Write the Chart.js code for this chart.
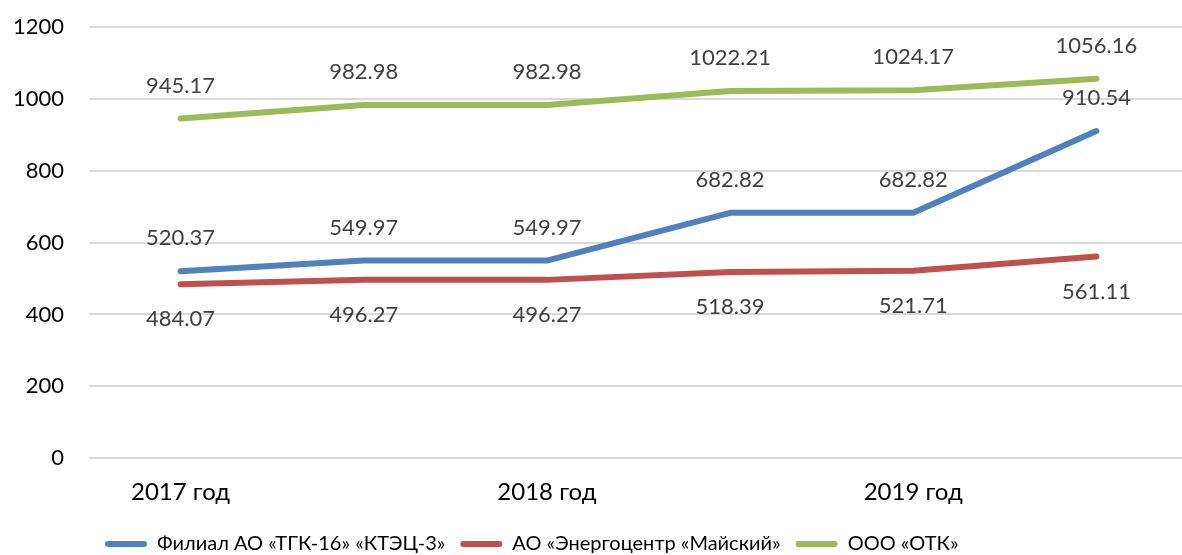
<!DOCTYPE html>
<html>
<head>
<meta charset="utf-8">
<script src="https://cdn.jsdelivr.net/npm/chart.js@4/dist/chart.umd.min.js"></script>
<style>
  html, body { margin: 0; padding: 0; background: #fff; overflow: hidden; }
  #wrap { position: absolute; left: 0; top: 0; width: 1189px; height: 564px; }
</style>
</head>
<body>
<div id="wrap"><canvas id="chart"></canvas></div>
<script>
// categories (only every second column carries a year label)
var years = ['2017 год', '', '2018 год', '', '2019 год', ''];

var seriesNames = ['Филиал АО «ТГК-16» «КТЭЦ-3»', 'АО «Энергоцентр «Майский»', 'ООО «ОТК»'];
var tgk = [520.37, 549.97, 549.97, 682.82, 682.82, 910.54];
var mayskiy = [484.07, 496.27, 496.27, 518.39, 521.71, 561.11];
var otk = [945.17, 982.98, 982.98, 1022.21, 1024.17, 1056.16];

var yTicks = [0, 200, 400, 600, 800, 1000, 1200];

var colors = ['#4f81bd', '#c0504d', '#9bbb59'];
var labelSide = [-1, 1, -1]; // -1 above the line, 1 below

var fontFamily = "Lato, 'Open Sans', sans-serif";
var legendFont = "'Liberation Sans Narrow', Lato, sans-serif";

// simple value labels, the datalabels plugin is not available offline
var valueLabels = {
    id: 'valueLabels',
    afterDatasetsDraw: function(chart) {
        var ctx = chart.ctx;
        ctx.save();
        ctx.font = '22px ' + fontFamily;
        ctx.fillStyle = '#404040';
        ctx.textAlign = 'center';
        ctx.textBaseline = 'middle';
        chart.data.datasets.forEach(function(ds, i) {
            var meta = chart.getDatasetMeta(i);
            meta.data.forEach(function(pt, j) {
                var off = labelSide[i] < 0 ? -33 : 35;
                ctx.fillText(ds.data[j].toFixed(2), pt.x, pt.y + off);
            });
        });
        ctx.restore();
    }
};

// the legend in the original sits left of centre
var legendShift = {
    id: 'legendShift',
    afterLayout: function(chart) {
        chart.legend.left = 105 - chart.legend.options.labels.padding;
    }
};

function makeSet(label, data, color) {
    return {
        label: label,
        data: data,
        borderColor: color,
        backgroundColor: color,
        borderWidth: 6,
        borderCapStyle: 'round',
        borderJoinStyle: 'round',
        pointRadius: 0,
        pointHoverRadius: 0,
        tension: 0,
        fill: false
    };
}

new Chart(document.getElementById('chart'), {
    type: 'line',
    data: {
        labels: years,
        datasets: [
            makeSet(seriesNames[0], tgk, colors[0]),
            makeSet(seriesNames[1], mayskiy, colors[1]),
            makeSet(seriesNames[2], otk, colors[2])
        ]
    },
    options: {
        responsive: true,
        maintainAspectRatio: false,
        animation: false,
        layout: { padding: { left: 0, right: 1, top: 0, bottom: 0 } },
        plugins: {
            tooltip: { enabled: false },
            legend: {
                position: 'bottom',
                align: 'start',
                labels: {
                    font: { family: legendFont, size: 20 },
                    color: '#000',
                    boxWidth: 42,
                    boxHeight: 6,
                    padding: 15,
                    generateLabels: function(chart) {
                        var items = Chart.defaults.plugins.legend.labels.generateLabels(chart);
                        items.forEach(function(it) {
                            it.lineWidth = 0;
                            it.borderRadius = 3;
                        });
                        return items;
                    }
                }
            }
        },
        scales: {
            x: {
                offset: true,
                grid: { display: false },
                border: { display: false },
                ticks: {
                    autoSkip: false,
                    maxRotation: 0,
                    padding: 12,
                    color: '#000',
                    font: { family: fontFamily, size: 24 }
                }
            },
            y: {
                min: yTicks[0],
                max: yTicks[yTicks.length - 1],
                afterBuildTicks: function(axis) {
                    axis.ticks = yTicks.map(function(v) { return { value: v }; });
                },
                afterFit: function(axis) {
                    axis.width = 89;
                    axis.paddingTop = 27;
                    axis.paddingBottom = 0;
                },
                border: { display: false },
                grid: { color: '#d9d9d9', lineWidth: 2, drawTicks: false },
                ticks: {
                    padding: 25,
                    color: '#000',
                    font: { family: fontFamily, size: 22 },
                    callback: function(v) { return String(v); }
                }
            }
        }
    },
    plugins: [valueLabels, legendShift]
});
</script>
</body>
</html>
